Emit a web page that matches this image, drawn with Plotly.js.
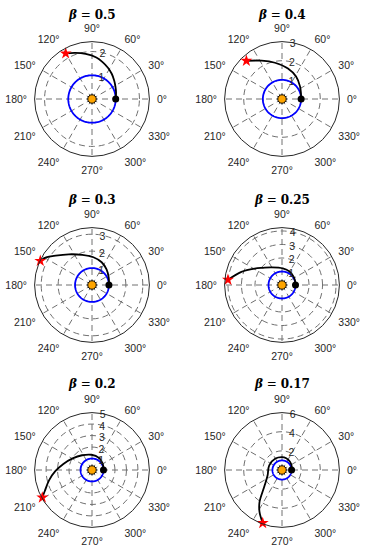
<!DOCTYPE html>
<html>
<head>
<meta charset="utf-8">
<script src="https://cdn.plot.ly/plotly-3.0.1.min.js"></script>
<style>html,body{margin:0;padding:0;background:#fff;}#chart{width:366px;height:550px;}</style>
</head>
<body>
<div id="chart"></div>
<script>
// ---- data ----
const betaLabels = ['0.5', '0.4', '0.3', '0.25', '0.2', '0.17'];
const rMax = [2.42, 3, 3.39, 4.25, 5, 6];
const rTicks = [[1, 2], [1, 2, 3], [1, 2, 3], [1, 2, 3, 4], [1, 2, 3, 4, 5], [2, 4, 6]];

const theta05 = [0, 15, 28, 40, 52, 63, 74, 84, 98, 110, 120];
const r05     = [1, 1.05, 1.12, 1.22, 1.35, 1.48, 1.62, 1.76, 1.92, 2.07, 2.22];

const theta04 = [0, 18, 35, 58, 79, 101, 118, 133];
const r04     = [1, 1.04, 1.15, 1.39, 1.63, 1.93, 2.27, 2.73];

const theta03 = [0, 24, 47, 67, 87, 108, 127, 141, 149, 155];
const r03     = [1, 1.08, 1.26, 1.46, 1.64, 1.87, 2.27, 2.76, 3.16, 3.37];

const theta025 = [0, 12, 22, 36, 60, 87, 121, 138, 149, 162, 174.5];
const r025     = [1, 1.005, 1.02, 1.06, 1.14, 1.23, 1.52, 1.9, 2.36, 3.16, 4.02];

const theta02 = [0, 15, 35, 60, 92, 124, 149, 168, 181.5, 193.5, 204, 209];
const r02     = [1, 1.03, 1.1, 1.22, 1.33, 1.55, 1.97, 2.55, 3.18, 3.85, 4.5, 4.95];

const theta017 = [0, 20, 45, 70, 90, 120, 160, 200, 215, 225, 235, 242, 250];
const r017     = [1, 1.08, 1.2, 1.3, 1.35, 1.38, 1.42, 1.6, 2.05, 2.7, 4.1, 5.0, 5.9];

const trajTheta = [theta05, theta04, theta03, theta025, theta02, theta017];
const trajR = [r05, r04, r03, r025, r02, r017];

const orbitRadius = 1;   // Earth orbit (AU)
const sunR = [0];
const sunTheta = [0];

// ---- build ----
const W = 366, H = 550, R = 57.4;
const centers = [[92, 99], [282, 99], [92, 285], [282, 285], [92, 470], [282, 470]];
const titleY = [15, 15, 200, 200, 384, 384];

const orbitTheta = [];
for (let a = 0; a <= 360; a += 2) orbitTheta.push(a);
const orbitR = orbitTheta.map(() => orbitRadius);

const gridCol = '#707070';
const traces = [];
const layout = {
  width: W, height: H,
  margin: {l: 0, r: 0, t: 0, b: 0},
  paper_bgcolor: '#fff',
  showlegend: false,
  font: {family: 'Liberation Sans, Arial, sans-serif', color: '#262626', size: 10.5},
  annotations: []
};

for (let i = 0; i < 6; i++) {
  const pid = i === 0 ? 'polar' : 'polar' + (i + 1);
  const [cx, cy] = centers[i];
  layout[pid] = {
    domain: {x: [(cx - R) / W, (cx + R) / W], y: [(H - cy - R) / H, (H - cy + R) / H]},
    bgcolor: '#fff',
    radialaxis: {
      range: [0, rMax[i]], tickvals: rTicks[i], ticktext: rTicks[i].map(String),
      angle: 88, tickangle: 88, showline: false, ticks: '',
      gridcolor: gridCol, griddash: '6px,4px', gridwidth: 1,
      tickfont: {size: 10.5, color: '#262626'}
    },
    angularaxis: {
      rotation: 0, direction: 'counterclockwise', dtick: 30,
      ticks: 'outside', ticklen: 5, tickcolor: 'rgba(0,0,0,0)',
      showline: true, linecolor: '#262626', linewidth: 1,
      gridcolor: gridCol, griddash: '6px,4px', gridwidth: 1,
      tickfont: {size: 10.5, color: '#262626'}
    }
  };
  traces.push({type: 'scatterpolar', subplot: pid, mode: 'lines', r: orbitR, theta: orbitTheta,
    line: {color: '#0000FF', width: 1.8}, hoverinfo: 'skip'});
  traces.push({type: 'scatterpolar', subplot: pid, mode: 'lines', r: trajR[i], theta: trajTheta[i],
    line: {color: '#000', width: 1.8, shape: 'spline'}, hoverinfo: 'skip'});
  traces.push({type: 'scatterpolar', subplot: pid, mode: 'markers', r: sunR, theta: sunTheta,
    marker: {color: '#FFA500', size: 8.5, line: {color: '#000', width: 1}}});
  traces.push({type: 'scatterpolar', subplot: pid, mode: 'markers', r: [trajR[i][0]], theta: [trajTheta[i][0]],
    marker: {color: '#000', size: 7}});
  const n = trajR[i].length - 1;
  traces.push({type: 'scatterpolar', subplot: pid, mode: 'markers', r: [trajR[i][n]], theta: [trajTheta[i][n]],
    marker: {color: '#FF0000', size: 9, symbol: 'star'}, cliponaxis: false});
  layout.annotations.push({
    xref: 'paper', yref: 'paper', x: cx / W, y: (H - titleY[i]) / H,
    xanchor: 'center', yanchor: 'middle', showarrow: false,
    text: '<b><i>β</i></b> = <b>' + betaLabels[i] + '</b>',
    font: {family: 'DejaVu Serif, Liberation Serif, serif', size: 12, color: '#000'}
  });
}

Plotly.newPlot('chart', traces, layout, {displayModeBar: false, staticPlot: true});
</script>
</body>
</html>
